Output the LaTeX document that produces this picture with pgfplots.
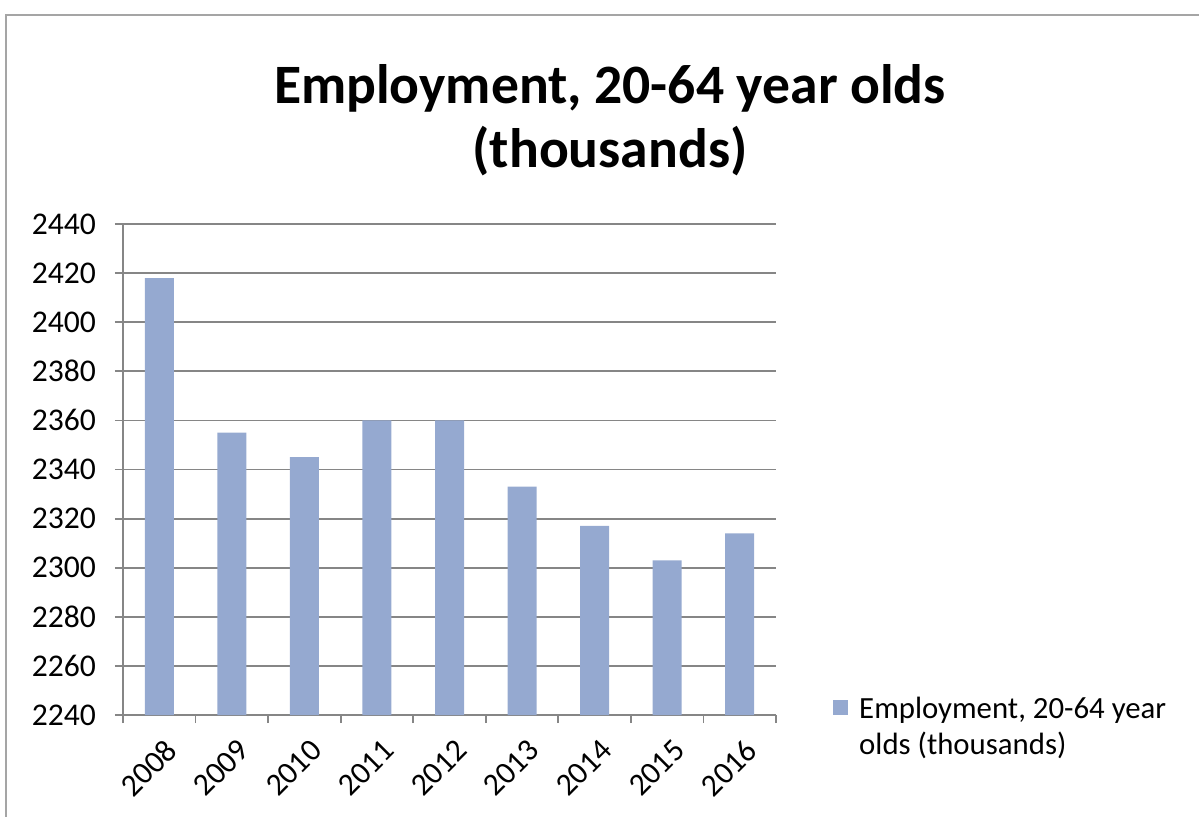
\documentclass[border=0pt]{standalone}
\usepackage{pgfplots}
\pgfplotsset{compat=1.18}
\usepackage{fontspec}
\setmainfont{Carlito}
\definecolor{barblue}{RGB}{149,169,208}
\definecolor{gridgray}{RGB}{134,134,134}
\definecolor{framegray}{RGB}{165,165,165}
\begin{document}
\begin{tikzpicture}
\useasboundingbox (0,0) rectangle (599.5pt,408pt);
\draw[framegray, line width=1.2pt] (3pt,-10pt) -- (3pt,400.5pt) -- (610pt,400.5pt);
\node[font=\bfseries\fontsize{27.8}{32}\selectfont, align=center] at (305pt,348pt) {Employment, 20-64 year olds\\(thousands)};
\begin{axis}[
  at={(61.5pt,50.5pt)}, anchor=south west,
  scale only axis, width=326.5pt, height=245.5pt,
  xmin=0.5, xmax=9.5, ymin=2240, ymax=2440,
  ytick={2240,2260,...,2440},
  xtick={0.5,1.5,...,9.5},
  xticklabels={,,,,,,,,,,},
  extra x ticks={1,2,...,9},
  extra x tick labels={2008,2009,2010,2011,2012,2013,2014,2015,2016},
  extra x tick style={major tick length=0pt, grid=none,
     xticklabel style={rotate=45, anchor=east, yshift=-15pt, xshift=-3pt}},
  axis x line=bottom, axis y line=left,
  axis line style={-, gridgray, line width=0.9pt},
  tick style={gridgray, line width=0.9pt},
  major tick length=4pt,
  tick align=outside,
  ymajorgrids, grid style={gridgray, line width=0.9pt},
  /pgf/number format/assume math mode=true,
  /pgf/number format/1000 sep={},
  ticklabel style={font=\fontsize{15.8}{18}\selectfont, text=black},
  yticklabel style={xshift=-6pt},
  ybar, bar width=14.5pt,
  legend style={at={(1.087,-0.026)}, anchor=west, draw=none, fill=none,
     inner sep=0pt, font=\fontsize{15.4}{18}\selectfont, cells={align=left},
     nodes={inner xsep=5.5pt}},
]
\addplot[fill=barblue, draw=none,
  legend image code/.code={\fill[barblue] (0pt,6.25pt) rectangle (7.5pt,13.75pt);}]
  coordinates {(1,2418) (2,2355) (3,2345) (4,2360) (5,2360) (6,2333) (7,2317) (8,2303) (9,2314)};
\addlegendentry{Employment, 20-64 year\\olds (thousands)}
\end{axis}
\end{tikzpicture}
\end{document}
